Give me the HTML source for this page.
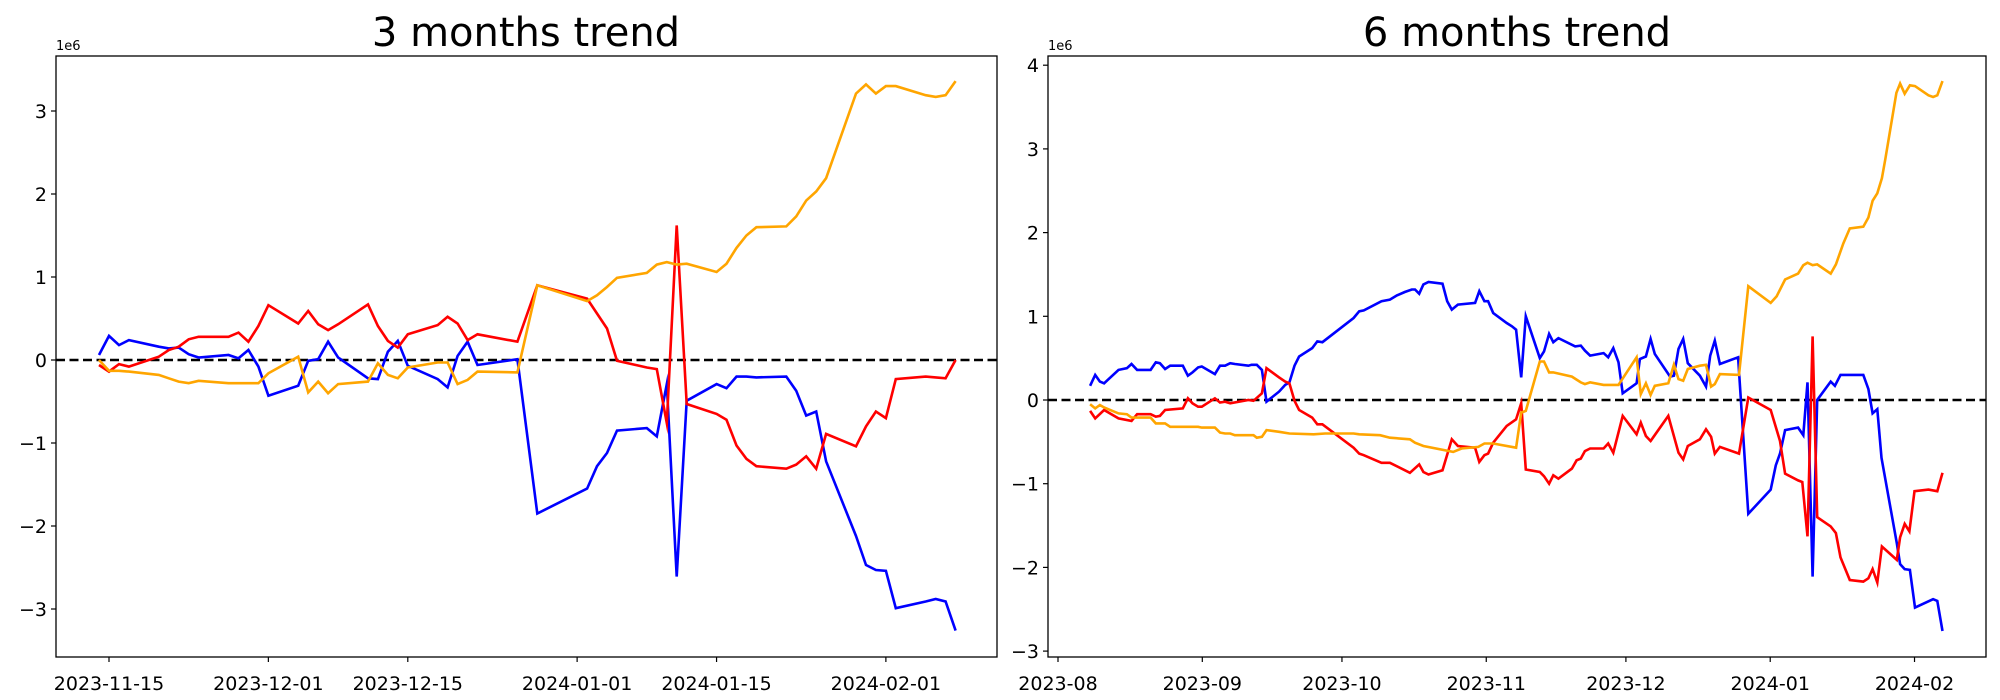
<!DOCTYPE html>
<html><head><meta charset="utf-8"><style>
html,body{margin:0;padding:0;background:#fff;}
svg{display:block;font-family:"DejaVu Sans","Liberation Sans",sans-serif;}
</style></head><body>
<svg id="fig" width="2000" height="700" viewBox="0 0 2000 700">
  <rect width="2000" height="700" fill="#fff"/>
  <text x="526" y="46" font-size="40" text-anchor="middle">3 months trend</text>
  <text x="1517" y="46" font-size="40" text-anchor="middle">6 months trend</text>
  <g id="left"></g>
  <g id="right"></g>
</svg>
<script>
// ---- left chart data (days from 2023-11-15, values in 1e6) ----
const leftDays = [-1,0,1,2,5,6,7,8,9,12,13,14,15,16,19,20,21,22,23,26,27,28,29,30,33,34,35,36,37,41,43,48,49,50,51,54,55,56,57,58,61,62,63,64,65,68,69,70,71,72,75,76,77,78,79,82,83,84,85];
const leftBlue = [0.06,0.29,0.18,0.24,0.16,0.14,0.15,0.07,0.03,0.06,0.02,0.12,-0.08,-0.43,-0.31,-0.01,0.01,0.22,0.03,-0.22,-0.23,0.10,0.23,-0.07,-0.23,-0.33,0.05,0.22,-0.06,0.01,-1.85,-1.55,-1.28,-1.12,-0.85,-0.82,-0.92,-0.29,-2.61,-0.49,-0.29,-0.34,-0.20,-0.20,-0.21,-0.20,-0.37,-0.67,-0.62,-1.22,-2.12,-2.47,-2.53,-2.54,-2.99,-2.91,-2.88,-2.91,-3.26];
const leftRed = [-0.06,-0.14,-0.05,-0.08,0.04,0.12,0.16,0.25,0.28,0.28,0.33,0.22,0.41,0.66,0.44,0.59,0.43,0.36,0.43,0.67,0.41,0.23,0.15,0.31,0.42,0.52,0.44,0.24,0.31,0.22,0.90,0.74,0.56,0.38,-0.01,-0.09,-0.11,-0.76,1.62,-0.53,-0.65,-0.72,-1.03,-1.19,-1.28,-1.31,-1.26,-1.16,-1.31,-0.89,-1.04,-0.80,-0.62,-0.70,-0.23,-0.20,-0.21,-0.22,0.0];
const leftOrange = [0.0,-0.13,-0.13,-0.14,-0.18,-0.22,-0.26,-0.28,-0.25,-0.28,-0.28,-0.28,-0.28,-0.16,0.04,-0.39,-0.26,-0.40,-0.29,-0.26,-0.04,-0.18,-0.22,-0.09,-0.03,-0.03,-0.29,-0.24,-0.14,-0.15,0.90,0.71,0.78,0.88,0.99,1.05,1.15,1.18,1.15,1.16,1.06,1.16,1.35,1.50,1.60,1.61,1.73,1.92,2.03,2.19,3.21,3.32,3.21,3.30,3.30,3.19,3.17,3.19,3.36];
const leftXTickDays = [0,16,30,47,61,78];
const leftXTickLabels = ["2023-11-15","2023-12-01","2023-12-15","2024-01-01","2024-01-15","2024-02-01"];
const leftYTicks = [3,2,1,0,-1,-2,-3];

// ---- right chart data (days from 2023-08-01, values in 1e6) ----
const rightBlueDays = [6.9,8,9,9.9,13,14.8,15.8,17,19.9,21,21.9,23,24.1,26.8,27.9,28.9,30.1,30.9,33.7,34.8,35.9,37,38,40.9,41.6,42.7,43.8,44.8,47.5,48.8,49.7,50.8,51.8,54.6,55.7,56.8,63.5,64.7,65.7,69.5,71.3,72.8,74.5,76,76.7,77.6,78.5,79.6,82.6,83.6,84.6,85.9,89.6,90.5,91.6,92.4,93.5,96.4,97.5,98.4,99.5,100.5,103.5,104.4,105.5,106.4,107.5,111.1,112.3,113.2,114.3,117.2,118.2,119.3,120.4,121.3,124.3,125,126.3,127.3,128.2,131.5,132.3,133.3,134.3,135.3,137.9,139.2,140.1,141.1,142.2,146.1,148.3,153.1,154.2,155.1,156.2,159,160.1,161,162.1,163.1,166,166.9,168.1,169.8,173,174.1,175,176,176.9,180.2,180.9,181.9,183,184.1,188,188.9,190];
const rightBlue = [0.17,0.30,0.22,0.20,0.36,0.38,0.43,0.36,0.36,0.45,0.44,0.37,0.41,0.41,0.29,0.33,0.39,0.40,0.31,0.41,0.41,0.44,0.43,0.41,0.42,0.42,0.36,-0.02,0.10,0.18,0.21,0.41,0.52,0.62,0.70,0.69,0.98,1.06,1.07,1.18,1.20,1.25,1.29,1.32,1.32,1.27,1.38,1.41,1.39,1.18,1.08,1.14,1.16,1.30,1.18,1.18,1.04,0.92,0.88,0.84,0.27,1.00,0.50,0.58,0.79,0.69,0.74,0.64,0.65,0.59,0.53,0.56,0.51,0.62,0.45,0.08,0.20,0.49,0.52,0.73,0.55,0.28,0.29,0.61,0.73,0.44,0.29,0.16,0.53,0.71,0.43,0.51,-1.36,-1.07,-0.78,-0.64,-0.36,-0.33,-0.42,0.21,-2.11,0.0,0.22,0.17,0.30,0.30,0.30,0.13,-0.16,-0.11,-0.69,-1.71,-1.96,-2.02,-2.03,-2.48,-2.38,-2.40,-2.76];
const rightRedDays = [6.9,8,9.9,13,15.8,17,19.9,21,21.9,23,26.8,27.9,28.9,30.1,30.9,33.7,34.8,35.9,37,40.9,42,43.8,44.8,47.5,48.8,49.7,50.8,51.8,54.6,55.7,56.8,63.5,64.7,65.7,69.5,71.3,75.6,77.6,78.5,79.6,82.6,84.6,85.9,89.6,90.5,91.6,92.4,93.5,96.4,98.4,99.5,100.5,103.5,104.4,105.5,106.4,107.5,110.4,111.4,112.3,113.2,114.3,117.2,118.2,119.3,121.3,124.3,125.2,126.3,127.3,131.1,133.3,134.3,135.3,137.9,139.2,140.3,141.1,142.2,146.3,148.3,153.1,155.1,156.2,159,159.9,161,162.1,163.1,166,167.1,168.1,170.1,173,174.1,175,176,177,180.2,180.9,181.9,182.9,184,187,188.9,190];
const rightRed = [-0.13,-0.22,-0.12,-0.22,-0.25,-0.17,-0.17,-0.20,-0.19,-0.12,-0.10,0.02,-0.04,-0.08,-0.08,0.02,-0.03,-0.02,-0.04,0.0,-0.01,0.08,0.38,0.27,0.22,0.20,-0.01,-0.12,-0.21,-0.29,-0.29,-0.57,-0.64,-0.66,-0.75,-0.75,-0.87,-0.77,-0.86,-0.89,-0.84,-0.47,-0.55,-0.57,-0.74,-0.66,-0.64,-0.51,-0.31,-0.23,-0.04,-0.83,-0.86,-0.91,-1.00,-0.90,-0.94,-0.82,-0.72,-0.70,-0.61,-0.58,-0.58,-0.52,-0.63,-0.19,-0.41,-0.27,-0.43,-0.49,-0.19,-0.63,-0.71,-0.55,-0.47,-0.35,-0.44,-0.64,-0.56,-0.64,0.03,-0.12,-0.49,-0.88,-0.96,-0.98,-1.63,0.76,-1.40,-1.51,-1.59,-1.88,-2.15,-2.17,-2.13,-2.02,-2.18,-1.75,-1.91,-1.64,-1.48,-1.57,-1.09,-1.07,-1.09,-0.87];
const rightOrangeDays = [6.9,8,9,9.9,13,14.8,15.8,17,19.9,21,23,24.1,26.8,30.1,30.9,33.7,34.8,35.9,37,38,42,42.7,43.8,44.8,47.5,49.7,54.9,57.4,63.5,64.7,69.2,71.3,75.6,76.7,78.5,84.9,86.7,90.3,91.6,93.5,98.4,99.5,100.5,103.5,104.4,105.5,106.4,110.4,112.3,113.2,114.3,117.2,120.4,124.3,125.2,126.3,127.3,128.2,131.1,132.3,133.3,134.3,135.3,137.9,139.2,140.3,141.1,142.2,146.3,148.3,153.1,154.4,156.2,159,160.1,161,162.1,163.1,166,167.1,168.7,170.1,173,174.1,175,176,177,177.7,180.1,180.9,181.9,183,184.1,187,188,188.9,190];
const rightOrange = [-0.05,-0.10,-0.06,-0.09,-0.16,-0.17,-0.21,-0.21,-0.21,-0.28,-0.28,-0.32,-0.32,-0.32,-0.33,-0.33,-0.39,-0.40,-0.40,-0.42,-0.42,-0.45,-0.44,-0.36,-0.38,-0.40,-0.41,-0.40,-0.40,-0.41,-0.42,-0.45,-0.47,-0.51,-0.55,-0.62,-0.58,-0.56,-0.52,-0.52,-0.57,-0.15,-0.13,0.46,0.46,0.33,0.33,0.28,0.21,0.19,0.21,0.18,0.18,0.51,0.07,0.20,0.06,0.17,0.20,0.42,0.25,0.23,0.37,0.41,0.42,0.16,0.19,0.31,0.30,1.36,1.16,1.24,1.44,1.51,1.61,1.64,1.61,1.62,1.51,1.62,1.87,2.05,2.07,2.18,2.38,2.47,2.65,2.87,3.67,3.78,3.66,3.76,3.75,3.64,3.62,3.64,3.81];
const rightXTickDays = [0,31,61,92,122,153,184];
const rightXTickLabels = ["2023-08","2023-09","2023-10","2023-11","2023-12","2024-01","2024-02"];
const rightYTicks = [4,3,2,1,0,-1,-2,-3];

const NS = "http://www.w3.org/2000/svg";
function mk(parent, tag, attrs, txt){
  const e = document.createElementNS(NS, tag);
  for (const k in attrs) e.setAttribute(k, attrs[k]);
  if (txt !== undefined) e.textContent = txt;
  parent.appendChild(e);
  return e;
}

function drawChart(g, cfg){
  const xs = d => cfg.x0 + d * cfg.dx;
  const ys = v => cfg.y0 - v * cfg.dy;
  // frame
  const frame = mk(g, 'rect', {x:cfg.left, y:cfg.top, width:cfg.right-cfg.left, height:cfg.bottom-cfg.top, fill:'none', stroke:'#000', 'stroke-width':1.3});
  
  
  // y ticks
  cfg.yTicks.forEach(v => {
    const y = ys(v);
    const t = mk(g, 'line', {x1:cfg.left-5, x2:cfg.left, y1:y, y2:y, stroke:'#000', 'stroke-width':1.2});
    
    
    const lb = mk(g, 'text', {x:cfg.left-9, y:y+7, 'font-size':19, 'text-anchor':'end'}, v < 0 ? '\u2212' + Math.abs(v) : String(v));
    
    
  });
  // x ticks
  cfg.xTickDays.forEach((d, i) => {
    const x = xs(d);
    const t = mk(g, 'line', {x1:x, x2:x, y1:cfg.bottom, y2:cfg.bottom+5, stroke:'#000', 'stroke-width':1.2});
    
    
    const lb = mk(g, 'text', {x:x, y:cfg.bottom+33, 'font-size':19, 'text-anchor':'middle'}, cfg.xTickLabels[i]);
    
    
  });
  const off = mk(g, 'text', {x:cfg.left, y:cfg.top-6, 'font-size':13}, '1e6');
  
  
  // zero line
  const z = mk(g, 'line', {x1:cfg.left, x2:cfg.right, y1:ys(0), y2:ys(0), stroke:'#000', 'stroke-width':2.4, 'stroke-dasharray':'9 4.5'});
  
  
  // series
  cfg.series.forEach(s => {
    const pts = s.days.map((d, i) => xs(d).toFixed(1) + ',' + ys(s.vals[i]).toFixed(1)).join(' ');
    const p = mk(g, 'polyline', {points:pts, fill:'none', stroke:s.color, 'stroke-width':2.6, 'stroke-linejoin':'miter', 'stroke-miterlimit':10});
    
    
  });
}

drawChart(document.getElementById('left'), {
  left:56, right:997, top:56, bottom:657,
  x0:109, dx:9.96, y0:360, dy:83.0,
  yTicks:leftYTicks, xTickDays:leftXTickDays, xTickLabels:leftXTickLabels,
  series:[
    {name:'blue-series-line', color:'#0000ff', days:leftDays, vals:leftBlue},
    {name:'red-series-line', color:'#ff0000', days:leftDays, vals:leftRed},
    {name:'orange-series-line', color:'#ffa500', days:leftDays, vals:leftOrange}
  ]
});
drawChart(document.getElementById('right'), {
  left:1048, right:1986, top:56, bottom:657,
  x0:1058, dx:4.655, y0:400, dy:83.7,
  yTicks:rightYTicks, xTickDays:rightXTickDays, xTickLabels:rightXTickLabels,
  series:[
    {name:'blue-series-line', color:'#0000ff', days:rightBlueDays, vals:rightBlue},
    {name:'red-series-line', color:'#ff0000', days:rightRedDays, vals:rightRed},
    {name:'orange-series-line', color:'#ffa500', days:rightOrangeDays, vals:rightOrange}
  ]
});
</script>
</body></html>
